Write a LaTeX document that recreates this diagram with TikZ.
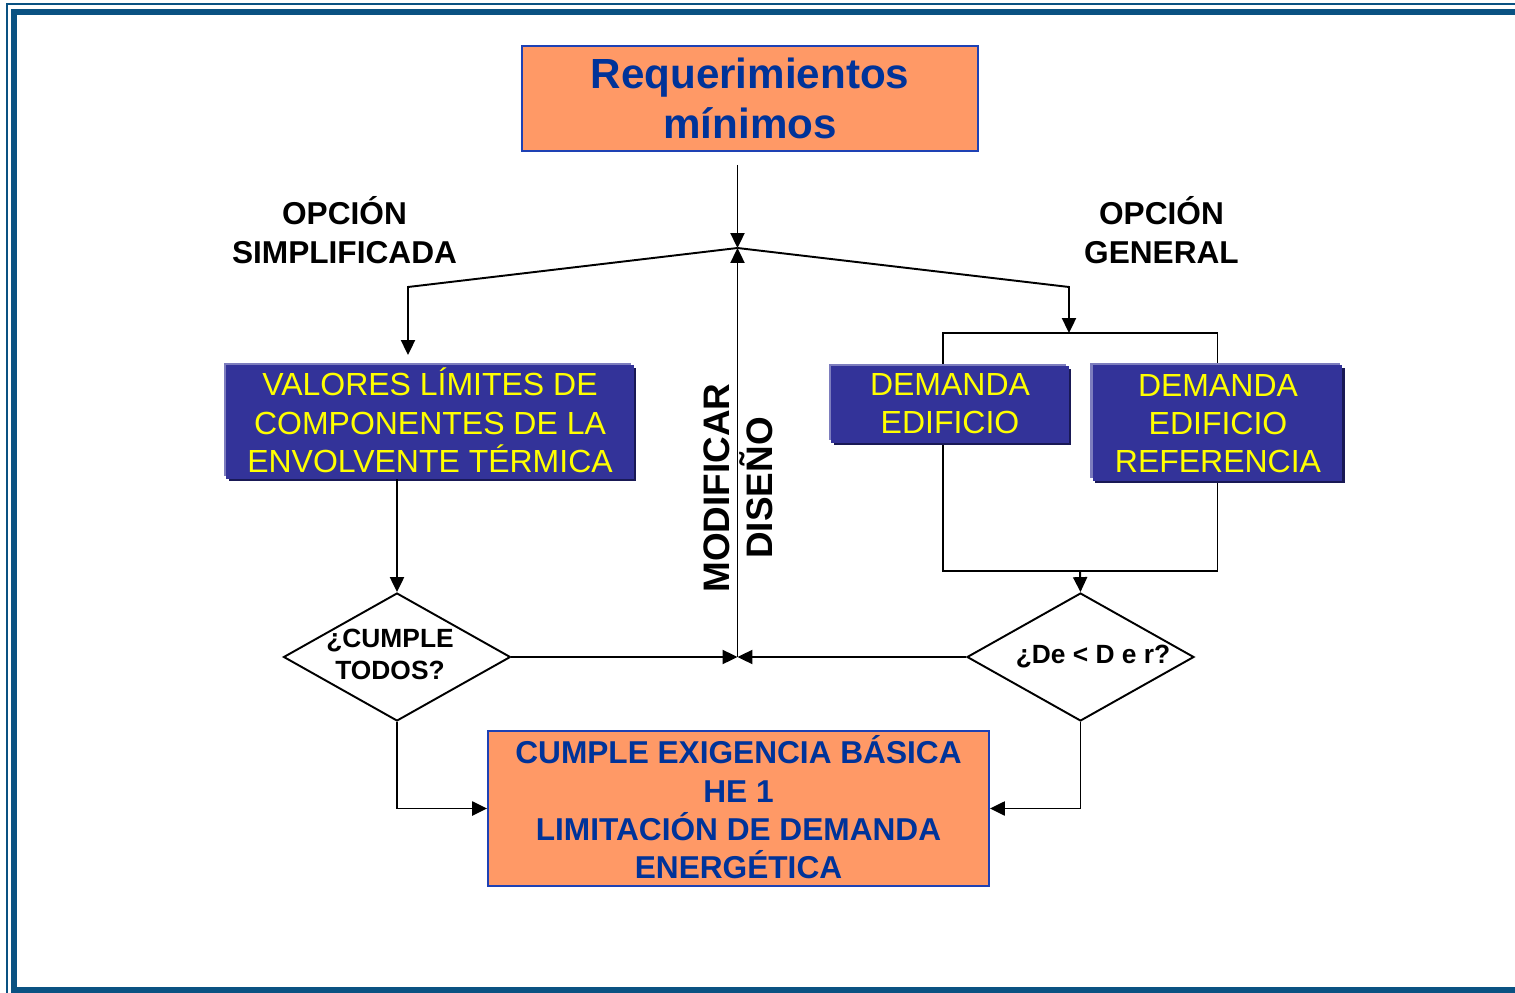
\documentclass[tikz,border=0pt]{standalone}
\usepackage{fontspec}
\setmainfont{Liberation Sans}
\usepackage{xcolor}
\usepackage{tikz}
\usetikzlibrary{shapes.geometric, arrows.meta, positioning, shadows, calc}

\definecolor{naranja}{RGB}{255,153,102}
\definecolor{azulBorde}{RGB}{30,65,180}
\definecolor{azulTexto}{RGB}{0,51,153}
\definecolor{azulCaja}{RGB}{51,51,153}
\definecolor{azulClaro}{RGB}{125,125,190}
\definecolor{azulOscuro}{RGB}{25,25,85}
\definecolor{marco}{RGB}{10,82,130}
\definecolor{amarillo}{RGB}{255,255,0}

\tikzset{
  cajaNaranja/.style={rectangle,draw=azulBorde,fill=naranja,line width=1.1pt},
  cajaAzul/.style={rectangle,fill=azulCaja,
    general shadow={fill=azulClaro,shadow xshift=-0.05cm,shadow yshift=0.05cm},
    general shadow={fill=azulOscuro,shadow xshift=0.05cm,shadow yshift=-0.05cm}},
  rombo/.style={diamond,draw,fill=white,line width=1.1pt,inner sep=0pt,
    minimum width=4.54cm,minimum height=2.56cm},
  flecha/.style={-{Triangle[length=8.5pt,width=8pt]},line width=1.1pt},
  linea/.style={line width=1.1pt},
  textoCaja/.style={font=\fontsize{18.2}{21.8}\selectfont,text=amarillo,align=center},
  textoNaranja/.style={font=\fontsize{18}{21.8}\selectfont\bfseries,text=azulTexto,align=center},
  etiqueta/.style={font=\fontsize{18}{22.2}\selectfont\bfseries,align=center},
  textoRombo/.style={font=\fontsize{15}{18.2}\selectfont\bfseries,align=center}
}

\begin{document}
\begin{tikzpicture}[x=0.02cm,y=-0.02cm]
    \clip (0,0) rectangle (1515,993);

    % Marco
    \draw[marco,line width=0.9pt] (7,4) rectangle (1560,1010);
    \draw[marco,line width=3.6pt] (14,12) rectangle (1540,990.5);

    % Puntos de paso
    \coordinate (ini) at (737.5,165);
    \coordinate (J) at (737.5,248);
    \coordinate (codoIzq) at (408,287);
    \coordinate (codoDer) at (1069,287);
    \coordinate (tope) at (1069,333);
    \coordinate (junta) at (1080,571);
    \coordinate (cruce) at (737.5,657);

    % Requerimientos minimos
    \node[cajaNaranja,minimum width=9.12cm,minimum height=2.1cm] (req) at (750,98.5) {};
    \node[font=\fontsize{24}{28.5}\selectfont\bfseries,text=azulTexto,align=center] at (750,98) {Requerimientos\\mínimos};

    % Opciones
    \node[etiqueta] (opS) at (344.5,230.5) {OPCIÓN\\SIMPLIFICADA};
    \node[etiqueta] (opG) at (1161.5,230.5) {OPCIÓN\\GENERAL};

    % Opcion general: marco de union
    \draw[linea] ([xshift=-0.14cm]950,404.5) |- (tope) -| (1217.5,423) |- (junta) -| ([xshift=-0.14cm]950,404.5);

    % Cajas azules
    \node[cajaAzul,minimum width=8.16cm,minimum height=2.28cm] (val) at (430,422) {};
    \node[textoCaja] at (430,420.5) {VALORES LÍMITES DE\\COMPONENTES DE LA\\ENVOLVENTE TÉRMICA};

    \node[cajaAzul,minimum width=4.76cm,minimum height=1.54cm] (de) at (950,404.5) {};
    \node[textoCaja] at (950,404) {DEMANDA\\EDIFICIO};

    \node[cajaAzul,minimum width=5.0cm,minimum height=2.32cm] (der) at (1217.5,423) {};
    \node[textoCaja] at (1218,423.5) {DEMANDA\\EDIFICIO\\REFERENCIA};

    % Rombos
    \node[rombo] (ri) at (397,657) {};
    \node[textoRombo] at (390,654.5) {¿CUMPLE\\TODOS?};

    \node[rombo] (rd) at (1080.5,657) {};
    \node[textoRombo] at (1093,656.5) {¿De < D e r?};

    % Cumple exigencia
    \node[cajaNaranja,minimum width=10.02cm,minimum height=3.1cm] (fin) at (738.5,808.5) {};
    \node[textoNaranja] at (738.5,807.5) {CUMPLE EXIGENCIA BÁSICA\\HE 1\\LIMITACIÓN DE DEMANDA\\ENERGÉTICA};

    % Modificar diseno
    \node[rotate=90,font=\fontsize{21}{24.5}\selectfont\bfseries,align=center] (mod) at (738.5,488) {MODIFICAR\\DISEÑO};

    % Conectores
    \draw[flecha] (ini) -- (J);
    \draw[flecha,shorten >=5.5pt] (J) -- (codoIzq) -- (codoIzq |- val.north);
    \draw[flecha] (J) -- (codoDer) -- (tope);
    \draw[flecha] (junta) -- (rd.north);
    \draw[flecha] (ri.north |- val.south) -- (ri.north);
    \draw[flecha] (ri.east) -- (cruce);
    \draw[flecha] (rd.west) -- (cruce);
    \draw[flecha] (cruce) -- (J);
    \draw[flecha] (ri.south) |- (fin.west);
    \draw[flecha] (rd.south) |- (fin.east);
\end{tikzpicture}
\end{document}
